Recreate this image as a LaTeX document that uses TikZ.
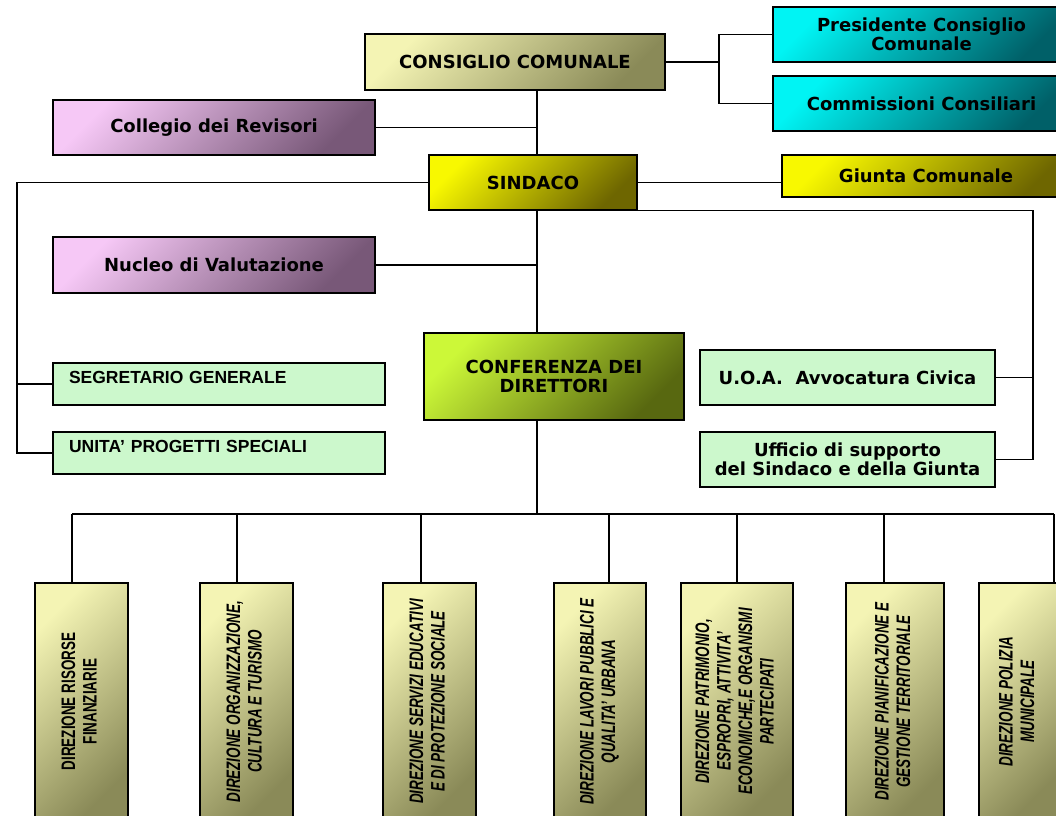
\documentclass[tikz,border=0pt]{standalone}
\usepackage{fontspec}
\usepackage{graphicx}
\setmainfont{DejaVu Sans}
\newfontfamily\arial{Liberation Sans}
\newfontfamily\narrow[FakeStretch=0.69]{Liberation Sans}
\definecolor{olivaC}{HTML}{F4F4B4}
\definecolor{olivaS}{HTML}{8A8A58}
\definecolor{rosaC}{HTML}{F6C8F6}
\definecolor{rosaS}{HTML}{785878}
\definecolor{cianoC}{HTML}{00F4F4}
\definecolor{cianoS}{HTML}{006068}
\definecolor{gialloC}{HTML}{F8F800}
\definecolor{gialloS}{HTML}{6E6600}
\definecolor{verdeC}{HTML}{CCF838}
\definecolor{verdeS}{HTML}{586810}
\definecolor{verdino}{HTML}{CCF8CC}
\newcommand{\ruota}[1]{\rotatebox{90}{\begin{tabular}{@{}c@{}}#1\end{tabular}}}

\begin{document}
\begin{tikzpicture}[x=1pt, y=-1pt,
  box/.style={draw, line width=1.6pt, inner sep=0pt, align=center,
    font=\bfseries\fontsize{18}{19}\selectfont},
  grad/.style 2 args={top color=#1, bottom color=#2, shading angle=45},
  uffbox/.style={box, fill=verdino},
  segbox/.style={box, fill=verdino, text width=300pt, align=left,
    minimum width=332pt, minimum height=42pt, text height=13pt, text depth=15pt,
    font=\arial\bfseries\fontsize{17.5}{20}\selectfont},
  dirbox/.style={box, grad={olivaC}{olivaS}, minimum height=237pt,
    font=\narrow\bfseries\fontsize{19.5}{21.5}\selectfont},
  link/.style={line width=1.3pt}]
  \clip (0,0) rectangle (1056,815);

  \node[box, grad={olivaC}{olivaS}, minimum width=300pt, minimum height=56pt] (cc) at (515,62) {CONSIGLIO COMUNALE};
  \node[box, grad={cianoC}{cianoS}, minimum width=297pt, minimum height=55pt] (pres) at (921.5,34.5) {Presidente Consiglio\\Comunale};
  \node[box, grad={cianoC}{cianoS}, minimum width=297pt, minimum height=55pt] (comm) at (921.5,103.5) {Commissioni Consiliari};
  \node[box, grad={rosaC}{rosaS}, minimum width=322pt, minimum height=55pt] (rev) at (214,127.5) {Collegio dei Revisori};
  \node[box, grad={gialloC}{gialloS}, minimum width=208pt, minimum height=55pt] (sind) at (533,182.5) {SINDACO};
  \node[box, grad={gialloC}{gialloS}, minimum width=288pt, minimum height=42pt] (giunta) at (926,176) {Giunta Comunale};
  \node[box, grad={rosaC}{rosaS}, minimum width=322pt, minimum height=56pt] (nuc) at (214,265) {Nucleo di Valutazione};
  \node[box, grad={verdeC}{verdeS}, minimum width=260pt, minimum height=87pt] (conf) at (554,376.5) {CONFERENZA DEI\\DIRETTORI};
  \node[segbox] (segr) at (219,384) {SEGRETARIO GENERALE};
  \node[segbox] (unita) at (219,453) {UNITA’ PROGETTI SPECIALI};
  \node[uffbox, minimum width=295pt, minimum height=55pt] (uoa) at (847.5,377.5) {U.O.A.~~Avvocatura Civica};
  \node[uffbox, minimum width=295pt, minimum height=55pt] (uffi) at (847.5,459.5) {Ufficio di supporto\\del Sindaco e della Giunta};

  \node[dirbox, minimum width=93pt] (d1) at (81.5,701.5) {\ruota{DIREZIONE RISORSE\\FINANZIARIE}};
  \node[dirbox, minimum width=93pt] (d2) at (246.5,701.5) {\ruota{\itshape DIREZIONE ORGANIZZAZIONE,\\\itshape CULTURA E TURISMO}};
  \node[dirbox, minimum width=93pt] (d3) at (429.5,701.5) {\ruota{\itshape DIREZIONE SERVIZI EDUCATIVI\\\itshape E DI PROTEZIONE SOCIALE}};
  \node[dirbox, minimum width=92pt] (d4) at (600,701.5) {\ruota{\itshape DIREZIONE LAVORI PUBBLICI E\\\itshape QUALITA’ URBANA}};
  \node[dirbox, minimum width=112pt] (d5) at (737,701.5) {\ruota{\itshape DIREZIONE PATRIMONIO,\\\itshape ESPROPRI, ATTIVITA’\\\itshape ECONOMICHE,E ORGANISMI\\\itshape PARTECIPATI}};
  \node[dirbox, minimum width=98pt] (d6) at (895,701.5) {\ruota{\itshape DIREZIONE PIANIFICAZIONE E\\\itshape GESTIONE TERRITORIALE}};
  \node[dirbox, minimum width=80pt] (d7) at (1019,701.5) {\ruota{\itshape DIREZIONE POLIZIA\\\itshape MUNICIPALE}};

  \coordinate (spine) at (537,0);
  \coordinate (brk) at (719,62);
  \coordinate (lft) at (17,186);
  \coordinate (rgt) at (1033,210);
  \coordinate (bus) at (0,514);

  \draw[link] (cc.south -| spine) -- (sind.north -| spine);
  \draw[link] (rev.east) -- (rev.east -| spine);
  \draw[link] (cc.east) -- (brk);
  \draw[link] (pres.west) -| (brk) |- (comm.west);
  \draw[link] (sind.east) -- (sind.east -| giunta.west);
  \draw[link] (sind.west) -| (unita.west -| lft) -- (unita.west);
  \draw[link] (segr.west -| lft) -- (segr.west);
  \draw[link] (sind.south east) -| (uffi.east -| rgt) -- (uffi.east);
  \draw[link] (uoa.east) -- (uoa.east -| rgt);
  \draw[link] (sind.south -| spine) -- (conf.north -| spine);
  \draw[link] (nuc.east) -- (nuc.east -| spine);
  \draw[link] (conf.south -| spine) -- (bus -| spine);
  \foreach \n/\x in {1/72, 2/237, 3/421, 4/609, 5/737, 6/884, 7/1054}
    \coordinate (t\n) at (\x,514);
  \draw[link] (t1) -- (t7);
  \foreach \n in {1,...,7}
    \draw[link] (t\n) -- (d\n.north -| t\n);
\end{tikzpicture}
\end{document}
